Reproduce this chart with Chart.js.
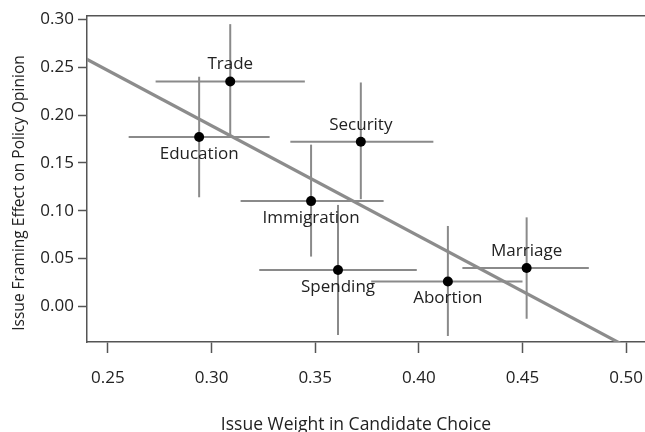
<!DOCTYPE html>
<html>
<head>
<meta charset="utf-8">
<script src="https://cdn.jsdelivr.net/npm/chart.js@4/dist/chart.umd.min.js"></script>
<style>
  html, body { margin: 0; padding: 0; background: #fff; overflow: hidden; }
  #wrap { width: 645px; height: 432px; position: relative; overflow: hidden; }
</style>
</head>
<body>
<div id="wrap"><canvas id="c" width="650" height="432"></canvas></div>
<script>
// Issues and their estimates with 95% intervals
const issues = ['Trade', 'Education', 'Security', 'Immigration', 'Spending', 'Abortion', 'Marriage'];
const weight = [0.309, 0.294, 0.372, 0.348, 0.361, 0.414, 0.452];
const weightLow = [0.273, 0.260, 0.338, 0.314, 0.323, 0.377, 0.421];
const weightHigh = [0.345, 0.328, 0.407, 0.383, 0.399, 0.450, 0.482];
const effect = [0.235, 0.177, 0.172, 0.110, 0.038, 0.026, 0.040];
const effectLow = [0.177, 0.114, 0.112, 0.052, -0.030, -0.031, -0.013];
const effectHigh = [0.295, 0.240, 0.234, 0.169, 0.106, 0.084, 0.093];
const labelAbove = [true, false, true, false, false, false, true];

// Fitted line: effect = intercept + slope * weight
const fitIntercept = 0.535;
const fitSlope = -1.154;

const xTicks = [0.25, 0.30, 0.35, 0.40, 0.45, 0.50];
const yTicks = [0.00, 0.05, 0.10, 0.15, 0.20, 0.25, 0.30];

const xTitle = 'Issue Weight in Candidate Choice';
const yTitle = 'Issue Framing Effect on Policy Opinion';

const FONT = '"Open Sans", sans-serif';
const BAR = '#8a8a8a';
const AXIS = '#555555';

const datasets = [];

// points (on top)
datasets.push({
  type: 'scatter',
  data: weight.map((w, i) => ({ x: w, y: effect[i] })),
  pointRadius: 5,
  pointBackgroundColor: '#000',
  pointBorderWidth: 0,
  order: 0
});

// fitted line
datasets.push({
  type: 'scatter',
  showLine: true,
  data: [0.2, 0.6].map(x => ({ x: x, y: fitIntercept + fitSlope * x })),
  borderColor: '#8c8c8c',
  borderWidth: 3.2,
  pointRadius: 0,
  clip: 0,
  order: 1
});

// interval bars
issues.forEach((name, i) => {
  datasets.push({
    type: 'scatter', showLine: true,
    data: [{ x: weightLow[i], y: effect[i] }, { x: weightHigh[i], y: effect[i] }],
    borderColor: BAR, borderWidth: 2, pointRadius: 0, order: 2
  });
  datasets.push({
    type: 'scatter', showLine: true,
    data: [{ x: weight[i], y: effectLow[i] }, { x: weight[i], y: effectHigh[i] }],
    borderColor: BAR, borderWidth: 2, pointRadius: 0, order: 2
  });
});

const labelPlugin = {
  id: 'issueLabels',
  afterDatasetsDraw(chart) {
    const ctx = chart.ctx;
    const xs = chart.scales.x, ys = chart.scales.y;
    ctx.save();
    ctx.font = '17px ' + FONT;
    ctx.fillStyle = '#222';
    ctx.textAlign = 'center';
    ctx.textBaseline = 'middle';
    issues.forEach((name, i) => {
      const px = xs.getPixelForValue(weight[i]);
      const py = ys.getPixelForValue(effect[i]) + (labelAbove[i] ? -17 : 17);
      ctx.fillText(name, px, py);
    });
    ctx.restore();
  }
};

const titlePlugin = {
  id: 'axisTitles',
  afterDraw(chart) {
    const ctx = chart.ctx;
    ctx.save();
    ctx.fillStyle = '#222';
    ctx.textAlign = 'center';
    ctx.textBaseline = 'middle';
    ctx.font = '17.5px ' + FONT;
    ctx.fillText(xTitle, 356, 425);
    ctx.font = '15.5px ' + FONT;
    ctx.translate(20, 193);
    ctx.rotate(-Math.PI / 2);
    ctx.fillText(yTitle, 0, 0);
    ctx.restore();
  }
};

new Chart(document.getElementById('c'), {
  type: 'scatter',
  data: { datasets },
  plugins: [labelPlugin, titlePlugin],
  options: {
    responsive: false,
    animation: false,
    events: [],
    layout: { padding: { left: 0, top: 16, right: 0, bottom: 0 } },
    plugins: { legend: { display: false }, tooltip: { enabled: false } },
    scales: {
      x: {
        type: 'linear',
        min: 0.2399, max: 0.5091,
        afterFit(s) { s.height = 90; s.paddingLeft = 0; s.paddingRight = 0; },
        afterBuildTicks(s) { s.ticks = xTicks.map(v => ({ value: v })); },
        grid: { drawOnChartArea: false, drawTicks: true, tickLength: 11, tickWidth: 1.5, tickColor: AXIS },
        border: { display: true, color: AXIS, width: 1.5 },
        ticks: {
          padding: 15,
          color: '#222',
          font: { family: FONT, size: 17 },
          callback: v => v.toFixed(2),
          maxRotation: 0
        }
      },
      xTop: {
        type: 'linear', position: 'top',
        min: 0.2399, max: 0.5091,
        afterFit(s) { s.height = 0; s.paddingLeft = 0; s.paddingRight = 0; },
        grid: { display: false },
        border: { display: true, color: AXIS, width: 1.5 },
        ticks: { display: false }
      },
      y: {
        type: 'linear',
        min: -0.0373, max: 0.3035,
        afterFit(s) { s.width = 87; s.paddingTop = 0; s.paddingBottom = 0; },
        afterBuildTicks(s) { s.ticks = yTicks.map(v => ({ value: v })); },
        grid: { drawOnChartArea: false, drawTicks: true, tickLength: 9, tickWidth: 1.5, tickColor: AXIS },
        border: { display: true, color: AXIS, width: 1.5 },
        ticks: {
          padding: 4,
          color: '#222',
          font: { family: FONT, size: 17 },
          callback: v => v.toFixed(2)
        }
      }
    }
  }
});
</script>
</body>
</html>
